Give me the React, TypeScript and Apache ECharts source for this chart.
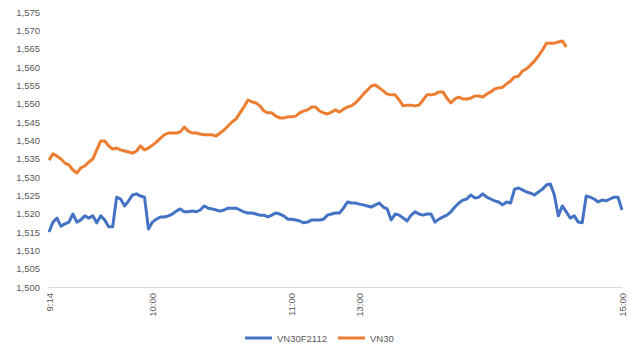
import React, { useEffect, useRef } from "react";
import * as echarts from "echarts";

// x-axis tick labels and the sample indices where they fall
const tickLabels = ["9:14", "10:00", "11:00", "13:00", "15:00"];
const tickIndex = [0, 26, 61, 78, 144];
const sampleCount = 145;

// y-axis
const yMin = 1500;
const yMax = 1575;
const yStep = 5;

// VN30F2112 (futures)
const vn30f2112 = [
  1515.0, 1517.7, 1518.8, 1516.6, 1517.2, 1517.7, 1519.9, 1517.7, 1518.3, 1519.4,
  1518.8, 1519.4, 1517.5, 1519.4, 1518.3, 1516.4, 1516.4, 1524.5, 1524.0, 1522.1,
  1523.5, 1525.1, 1525.4, 1524.8, 1524.5, 1515.8, 1517.7, 1518.5, 1519.1, 1519.1,
  1519.4, 1519.9, 1520.7, 1521.3, 1520.5, 1520.5, 1520.7, 1520.5, 1521.0, 1522.1,
  1521.5, 1521.3, 1521.0, 1520.7, 1521.0, 1521.5, 1521.5, 1521.5, 1521.0, 1520.5,
  1520.2, 1520.2, 1519.9, 1519.6, 1519.6, 1519.1, 1519.6, 1520.2, 1519.9, 1519.4,
  1518.5, 1518.5, 1518.3, 1518.0, 1517.5, 1517.7, 1518.3, 1518.3, 1518.3, 1518.5,
  1519.6, 1519.9, 1520.2, 1520.2, 1521.5, 1523.2, 1522.9, 1522.9, 1522.6, 1522.4,
  1522.1, 1521.8, 1522.4, 1522.9, 1521.8, 1521.3, 1518.3, 1519.9, 1519.6, 1518.8,
  1518.0, 1519.6, 1520.5, 1519.9, 1519.6, 1519.9, 1519.9, 1517.7, 1518.5, 1519.1,
  1519.6, 1520.5, 1521.8, 1522.9, 1523.7, 1524.0, 1525.1, 1524.3, 1524.5, 1525.4,
  1524.5, 1524.0, 1523.5, 1523.2, 1522.4, 1523.2, 1522.9, 1526.7, 1527.0, 1526.5,
  1525.9, 1525.6, 1525.1, 1525.9, 1526.7, 1527.8, 1528.1, 1525.1, 1519.4, 1522.1,
  1520.5, 1518.8, 1519.4, 1517.7, 1517.5, 1524.8, 1524.5, 1524.0, 1523.2, 1523.7,
  1523.5, 1524.0, 1524.5, 1524.5, 1521.0,
];

// VN30 (index)
const vn30 = [
  1534.6, 1536.3, 1535.7, 1534.9, 1533.8, 1533.3, 1531.9, 1531.1, 1532.5, 1533.0,
  1534.1, 1534.9, 1537.4, 1539.8, 1539.8, 1538.5, 1537.6, 1537.9, 1537.4, 1537.1,
  1536.8, 1536.5, 1537.1, 1538.5, 1537.4, 1537.9, 1538.7, 1539.5, 1540.6, 1541.5,
  1542.0, 1542.0, 1542.0, 1542.3, 1543.6, 1542.5, 1542.0, 1542.0, 1541.7, 1541.5,
  1541.5, 1541.5, 1541.2, 1542.0, 1542.8, 1543.9, 1545.0, 1545.8, 1547.5, 1549.1,
  1551.0, 1550.5, 1550.2, 1549.4, 1548.0, 1547.5, 1547.5, 1546.6, 1546.1, 1546.1,
  1546.4, 1546.4, 1546.6, 1547.5, 1548.0, 1548.3, 1549.1, 1549.1, 1548.0, 1547.5,
  1547.2, 1547.7, 1548.3, 1547.7, 1548.5, 1549.1, 1549.4, 1550.2, 1551.3, 1552.6,
  1553.7, 1554.8, 1555.1, 1554.3, 1553.5, 1552.6, 1552.4, 1552.4, 1551.0, 1549.4,
  1549.6, 1549.6, 1549.4, 1549.6, 1551.0, 1552.4, 1552.4, 1552.6, 1553.2, 1553.2,
  1551.5, 1550.2, 1551.3, 1551.8, 1551.3, 1551.3, 1551.5, 1552.1, 1552.1, 1551.8,
  1552.6, 1553.2, 1554.0, 1554.3, 1554.5, 1555.4, 1556.2, 1557.3, 1557.5, 1558.9,
  1559.5, 1560.5, 1561.6, 1563.0, 1564.6, 1566.5, 1566.5, 1566.5, 1566.8, 1567.1,
  1565.5,
];

const categories: string[] = Array.from({ length: sampleCount }, (_, i) => {
  const k = tickIndex.indexOf(i);
  return k >= 0 ? tickLabels[k] : "";
});

const FONT = "Liberation Sans, Arial, sans-serif";
const TEXT = "#595959";

export default function App() {
  const ref = useRef<HTMLDivElement>(null);

  useEffect(() => {
    if (!ref.current) return;
    const chart = echarts.init(ref.current, undefined, { renderer: "svg" });
    chart.setOption({
      animation: false,
      backgroundColor: "#ffffff",
      grid: { left: 49, right: 8, top: 12, bottom: 73, containLabel: false },
      legend: {
        data: ["VN30F2112", "VN30"],
        bottom: 12,
        left: 240,
        icon: "rect",
        itemWidth: 27,
        itemHeight: 3,
        itemGap: 11,
        textStyle: { color: TEXT, fontSize: 9.5, fontFamily: FONT },
      },
      xAxis: {
        type: "category",
        data: categories,
        boundaryGap: false,
        axisLine: { show: true, lineStyle: { color: "#d9d9d9", width: 1 } },
        axisTick: { show: false },
        splitLine: { show: false },
        axisLabel: {
          interval: 0,
          rotate: 90,
          margin: 6,
          color: TEXT,
          fontSize: 9.5,
          fontFamily: FONT,
        },
      },
      yAxis: {
        type: "value",
        min: yMin,
        max: yMax,
        interval: yStep,
        axisLine: { show: false },
        axisTick: { show: false },
        splitLine: { show: false },
        axisLabel: {
          margin: 9,
          color: TEXT,
          fontSize: 9.5,
          fontFamily: FONT,
          formatter: (v: number) => v.toLocaleString("en-US"),
        },
      },
      series: [
        {
          name: "VN30F2112",
          type: "line",
          data: vn30f2112,
          symbol: "none",
          showSymbol: false,
          lineStyle: { color: "#4472C4", width: 3, join: "round" },
          itemStyle: { color: "#4472C4" },
        },
        {
          name: "VN30",
          type: "line",
          data: vn30,
          symbol: "none",
          showSymbol: false,
          lineStyle: { color: "#ED7D31", width: 3, join: "round" },
          itemStyle: { color: "#ED7D31" },
        },
      ],
    });
    return () => chart.dispose();
  }, []);

  return (
    <div
      ref={ref}
      style={{ position: "fixed", left: 0, top: 0, width: 630, height: 360, background: "#fff" }}
    />
  );
}
